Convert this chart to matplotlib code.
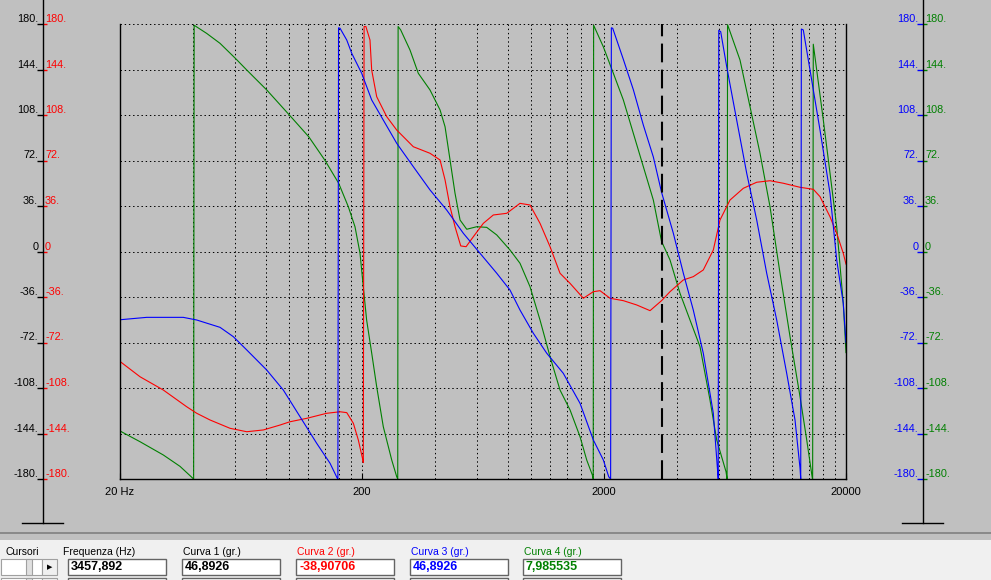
import numpy as np
import matplotlib
matplotlib.use('Agg')
import matplotlib.pyplot as plt
from matplotlib.lines import Line2D
from matplotlib.patches import Rectangle
from matplotlib.ticker import NullFormatter

plt.rcParams['font.family'] = ['Liberation Sans', 'DejaVu Sans']

# ── Data (frequency in Hz, phase in degrees, wrapped as shown) ──────────────
RED_F = [20, 24.2, 30.2, 37.7, 41.5, 47.1, 57, 66.8, 78.2, 91.7, 100.8, 118.2,
         143, 162.3, 173, 184.2, 193.1, 201.3, 202.5, 204, 207.5, 215.8, 219.3,
         230, 253, 278.3, 325.9, 382, 420.3, 440.8, 462.2, 484.7, 511.8, 538.4,
         576.9, 634.5, 697.8, 792.2, 899.2, 989.1, 1088, 1197, 1316, 1448, 1643,
         1807, 1926, 2118, 2404, 2730, 3099, 3458, 3748, 4255, 4677, 5144, 5659,
         6030, 6632, 7528, 8552, 9706, 11017, 12915, 14657, 15618, 17178, 18307,
         19487, 20000]
RED_P = [-87, -99.1, -109.6, -122.8, -128, -133.3, -139.9, -142.6, -141.2, -137.3,
         -134.7, -132, -128, -126.8, -127.5, -135.9, -149.1, -164.4, -167, 178, 178,
         167.3, 143.6, 122.5, 106.7, 96.1, 82.9, 77.7, 72.4, 56.6, 35.4, 19.6, 4.4,
         3.8, 11.7, 22.3, 28.9, 30.2, 38.1, 36.8, 22.3, 3.8, -17.2, -25.2, -37,
         -31.8, -31, -37, -38.9, -42.3, -46.8, -38.9, -31.8, -22.5, -19.9, -14.6,
         1.2, 24.9, 40.7, 50, 54.8, 56, 54, 50.8, 49.2, 43.4, 27.5, 14.4, -1.4, -10]

BLUE_F = [20, 25.8, 36.5, 41.5, 51.8, 58.8, 66.8, 80.8, 94.6, 110.9, 130, 147.6,
          158.1, 159, 160, 162.3, 173, 181.4, 199.4, 219.3, 244.9, 278.3, 325.9,
          382, 447.7, 524.6, 614.8, 720.8, 817.7, 899.2, 1021, 1160, 1358, 1592,
          1807, 1987, 2092, 2130, 2145, 2173, 2404, 2644, 2908, 3198, 3458, 3869,
          4255, 4677, 5144, 5659, 5878, 5930, 5960, 6071, 6428, 7068, 7776, 8552,
          9405, 10344, 11376, 12313, 12915, 13000, 13080, 13320, 14200, 15618,
          17178, 18307, 19487, 20000]
BLUE_P = [-54, -52.1, -52.1, -54.2, -60, -67.4, -77.9, -93.8, -109.6, -130.7,
          -151.8, -167.6, -179.4, -180, 177, 176.6, 167.3, 156.8, 141, 119.9, 104,
          85.6, 67.1, 48.7, 32.8, 14.4, -1.4, -17.2, -30.5, -46.3, -64.7, -80.5,
          -96.4, -120.1, -149.1, -164.9, -178.2, -180, 177, 176.6, 152, 128, 100,
          74.8, 46.9, 14.4, -17.2, -46.3, -80.5, -128, -170.3, -180, 175, 173.9,
          146.2, 104, 61.9, 24.9, -17.2, -54.2, -96.4, -133.3, -171.5, -180, 176,
          175.3, 143.6, 96.1, 46, -6.7, -41, -72]

GREEN_F = [20, 24.2, 30.2, 35.4, 40.3, 40.5, 45.6, 51.8, 59.9, 66.8, 80.8, 100.2,
           120.5, 140.3, 160.2, 175.6, 187.1, 196.2, 202.5, 209, 219.3, 230, 244.9,
           265.4, 278.3, 281, 282, 289, 315.8, 341.7, 382, 420.3, 440.8, 462.2,
           484.7, 508.4, 541.8, 595.8, 655.2, 720.8, 817.7, 899.2, 989.1, 1088,
           1197, 1316, 1448, 1592, 1697, 1790, 1805, 1812, 1987, 2186, 2404, 2644,
           2908, 3198, 3458, 3748, 4122, 4533, 4986, 5483, 5845, 6386, 6450, 6480,
           7295, 8024, 8825, 9706, 10676, 11742, 12915, 13764, 14517, 14560, 14650,
           16118, 17178, 18307, 19487, 20000]
GREEN_P = [-142, -150.5, -161, -170, -180, 179, 172.6, 164.7, 152.9, 143.6, 127.8,
           108, 90.8, 72.4, 54, 35.4, 19.6, -1.2, -27.9, -54.2, -80.3, -107, -138.6,
           -165, -178.2, -180, 178, 175.3, 159.4, 141, 127.8, 112, 98.7, 72.4, 46,
           24.9, 17.6, 19.6, 19.1, 13.1, 1.2, -9.3, -27.8, -54.2, -83.2, -109.6,
           -125.4, -146.5, -165, -176.8, -180, 179, 162, 141, 119.9, 93.5, 67.1,
           40.7, 8, -6.7, -33.1, -54.2, -75.3, -117.5, -149.1, -174.2, -180, 179.5,
           151.5, 114.6, 77.7, 35.4, -17.2, -67.4, -114.9, -149.1, -179.4, -180, 164,
           104, 62, 19.6, -41, -80]

CURSOR_F = 3457.892
XTICKS = [20, 200, 2000, 20000]
XLABELS = ['20 Hz', '200', '2000', '20000']
YTICKS = [-180, -144, -108, -72, -36, 0, 36, 72, 108, 144, 180]
YLABELS = ['-180.', '-144.', '-108.', '-72.', '-36.', '0', '36.', '72.', '108.', '144.', '180.']

PANEL_LABELS = ['Frequenza (Hz)', 'Curva 1 (gr.)', 'Curva 2 (gr.)', 'Curva 3 (gr.)', 'Curva 4 (gr.)']
PANEL_VALUES = ['3457,892', '46,8926', '-38,90706', '46,8926', '7,985535']
PANEL_COLORS = ['black', 'black', '#FF0000', '#0000FF', '#008000']

# ── Figure ──────────────────────────────────────────────────────────────────
W, H = 991, 580
BG = '#C0C0C0'
fig = plt.figure(figsize=(W / 100, H / 100), dpi=100, facecolor=BG)


def fx(px):
    return px / W


def fy(py):
    return 1 - py / H


TOP, BOT, LEFT, RIGHT = 24, 479, 120, 846

ax = fig.add_axes([fx(LEFT), fy(BOT), (RIGHT - LEFT) / W, (BOT - TOP) / H])
ax.set_facecolor(BG)
ax.set_xscale('log')
ax.set_xlim(20, 20000)
ax.set_ylim(-180, 180)
ax.set_xticks(XTICKS)
ax.set_xticklabels(XLABELS)
minor = [m * d for d in (20, 200, 2000) for m in range(2, 10)]
ax.set_xticks(minor, minor=True)
ax.xaxis.set_minor_formatter(NullFormatter())
ax.set_yticks(YTICKS)
ax.set_yticklabels([])
ax.tick_params(axis='y', length=0)
ax.tick_params(axis='x', which='major', direction='in', length=4, labelsize=8, pad=6)
ax.tick_params(axis='x', which='minor', length=0)
ax.set_axisbelow(True)
ax.grid(True, which='both', color='black', linestyle=(0, (1.4, 2.8)), linewidth=0.72)
ax.spines['top'].set_visible(False)
for s in ('left', 'bottom', 'right'):
    ax.spines[s].set_linewidth(1.0)
    ax.spines[s].set_color('black')

ax.plot(GREEN_F, GREEN_P, color='#008000', lw=0.8)
ax.plot(RED_F, RED_P, color='#FF0000', lw=0.8)
ax.plot(BLUE_F, BLUE_P, color='#0000FF', lw=0.8)
ax.axvline(CURSOR_F, color='black', lw=1.5, dashes=(9, 3.5))


# ── Side scales ─────────────────────────────────────────────────────────────
def side_axis(xpix, lcol, rcol):
    a = fig.add_axes([fx(xpix), fy(BOT), 1e-6, (BOT - TOP) / H])
    a.patch.set_visible(False)
    for s in a.spines.values():
        s.set_visible(False)
    a.set_xticks([])
    a.set_ylim(-180, 180)
    a.set_yticks(YTICKS)
    a.set_yticklabels(YLABELS)
    a.tick_params(axis='y', colors=lcol, labelsize=7.8, length=4, width=1, pad=-0.5)
    b = a.twinx()
    b.patch.set_visible(False)
    for s in b.spines.values():
        s.set_visible(False)
    b.set_ylim(-180, 180)
    b.set_yticks(YTICKS)
    b.set_yticklabels(YLABELS)
    b.tick_params(axis='y', colors=rcol, labelsize=7.8, length=3, width=1, pad=-1.5)
    for t in a.get_yticklabels() + b.get_yticklabels():
        t.set_va('bottom')
    fig.add_artist(Line2D([fx(xpix)] * 2, [fy(0), fy(523)], transform=fig.transFigure,
                          color='black', lw=1.0))
    fig.add_artist(Line2D([fx(xpix - 21), fx(xpix + 20)], [fy(523)] * 2,
                          transform=fig.transFigure, color='black', lw=1.0))


side_axis(43, 'black', '#FF0000')
side_axis(923, '#0000FF', '#008000')

# ── Bottom panel ────────────────────────────────────────────────────────────
fig.add_artist(Line2D([0, 1], [fy(533)] * 2, transform=fig.transFigure, color='#808080', lw=1.2))
fig.add_artist(Rectangle((0, 0), 1, (H - 540) / H, transform=fig.transFigure,
                         facecolor='#F0F0F0', edgecolor='none'))

fig.text(fx(5), fy(552), 'Cursori', fontsize=7.5, va='center', ha='left')
box_x = [68, 182, 296, 410, 523]
for bx, lab, val, col in zip(box_x, PANEL_LABELS, PANEL_VALUES, PANEL_COLORS):
    fig.text(fx(bx - 5 if lab.startswith('Freq') else bx + 1), fy(552), lab, fontsize=7.5,
             va='center', ha='left', color=col)
    for top in (559, 578):
        fig.add_artist(Rectangle((fx(bx), fy(top + 16)), 98 / W, 16 / H,
                                 transform=fig.transFigure, facecolor='white',
                                 edgecolor='#646464', lw=1.0))
    fig.text(fx(bx + 3), fy(567), val, fontsize=9, fontweight='bold',
             va='center', ha='left', color=col)

# slider
for top in (559, 578):
    fig.add_artist(Rectangle((fx(1), fy(top + 16)), 41 / W, 16 / H, transform=fig.transFigure,
                             facecolor='white', edgecolor='#A0A0A0', lw=0.8))
    fig.add_artist(Rectangle((fx(26), fy(top + 16)), 6 / W, 16 / H, transform=fig.transFigure,
                             facecolor='#E0E0E0', edgecolor='#A0A0A0', lw=0.8))
    fig.add_artist(Rectangle((fx(42), fy(top + 16)), 15 / W, 16 / H, transform=fig.transFigure,
                             facecolor='#F0F0F0', edgecolor='#A0A0A0', lw=0.8))
fig.text(fx(49.5), fy(567), '▶', fontsize=5, va='center', ha='center',
         family='DejaVu Sans', color='black')

fig.savefig('out.png', dpi=100, facecolor=BG)
